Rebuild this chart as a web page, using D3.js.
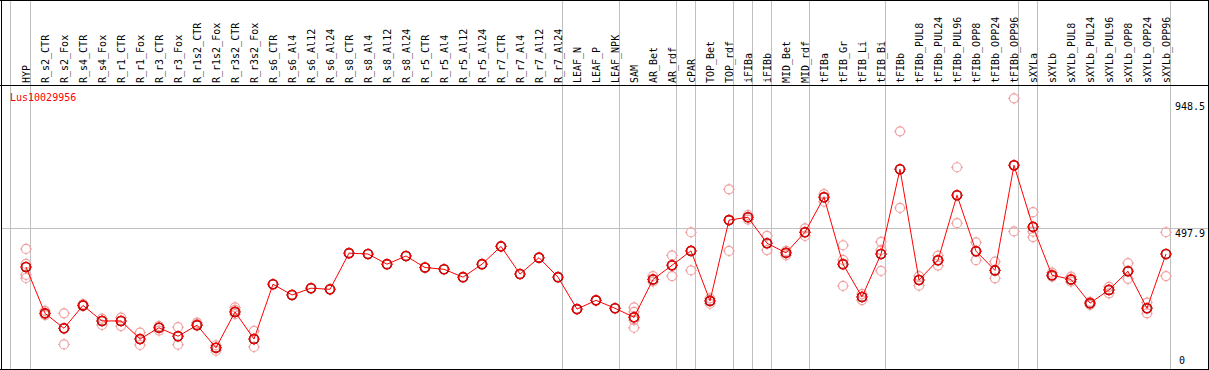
<!DOCTYPE html>
<html>
<head>
<meta charset="utf-8">
<script src="https://cdn.jsdelivr.net/npm/d3@7"></script>
<style>
  body { margin: 0; background: #fff; }
  svg { display: block; }
  text { font-family: "DejaVu Sans Mono", monospace; font-size: 10px; }
</style>
</head>
<body>
<div id="chart"></div>
<script>
var geneName = "Lus10029956";

var categories = ["HYP", "R_s2_CTR", "R_s2_Fox", "R_s4_CTR", "R_s4_Fox", "R_r1_CTR", "R_r1_Fox",
  "R_r3_CTR", "R_r3_Fox", "R_r1s2_CTR", "R_r1s2_Fox", "R_r3s2_CTR", "R_r3s2_Fox", "R_s6_CTR",
  "R_s6_Al4", "R_s6_Al12", "R_s6_Al24", "R_s8_CTR", "R_s8_Al4", "R_s8_Al12", "R_s8_Al24",
  "R_r5_CTR", "R_r5_Al4", "R_r5_Al12", "R_r5_Al24", "R_r7_CTR", "R_r7_Al4", "R_r7_Al12",
  "R_r7_Al24", "LEAF_N", "LEAF_P", "LEAF_NPK", "SAM", "AR_Bet", "AR_rdf", "cPAR", "TOP_Bet",
  "TOP_rdf", "iFIBa", "iFIBb", "MID_Bet", "MID_rdf", "tFIBa", "tFIB_Gr", "tFIB_Li", "tFIB_Bi",
  "tFIBb", "tFIBb_PUL8", "tFIBb_PUL24", "tFIBb_PUL96", "tFIBb_OPP8", "tFIBb_OPP24",
  "tFIBb_OPP96", "sXYLa", "sXYLb", "sXYLb_PUL8", "sXYLb_PUL24", "sXYLb_PUL96", "sXYLb_OPP8",
  "sXYLb_OPP24", "sXYLb_OPP96"];

// mean expression per sample
var means = [361, 197, 144, 225, 170, 170, 106, 146, 116, 155, 75, 202, 106, 300,
  262, 286, 282, 410, 407, 371, 400, 359, 353, 325, 371, 434, 336, 394,
  325, 212, 243, 215, 183, 317, 367, 418, 241,
  527, 537, 445, 411, 484, 608, 371, 255, 407,
  707, 315, 385, 615, 417, 349,
  721, 503, 332, 317, 233, 280, 346,
  215, 407];

// individual replicates
var replicates = [[425, 372, 333, 322], [206, 191], [197, 87], [230, 223], [178, 156], [182, 152], [129, 85],
  [152, 136], [148, 86], [164, 159], [84, 65], [218, 209, 194], [135, 78], [],
  [], [], [], [], [], [], [],
  [], [], [], [], [], [], [],
  [], [], [], [], [218, 202, 173, 146], [329, 309], [402, 329], [484, 349], [250, 231],
  [636, 418], [545, 529], [471, 421], [402, 418], [498, 471], [619, 592], [438, 386, 294], [244, 265], [450, 421, 347],
  [841, 570], [329, 295], [401, 366], [714, 516], [448, 385], [380, 321],
  [958, 487], [555, 486, 467], [341, 327], [327, 309], [238, 227], [291, 268], [375, 319],
  [235, 197], [484, 329]];

// samples that start a new block (vertical separators)
var groupStarts = ["HYP", "R_s2_CTR", "LEAF_N", "SAM", "cPAR", "TOP_Bet", "iFIBa", "iFIBb",
  "MID_Bet", "tFIBa", "tFIBb", "sXYLa", "sXYLb"];

var yTicks = [0, 497.9, 948.5];
var yGrid = [497.9];

var w = 1209, h = 370;
var headerBottom = 85.5;

var svg = d3.select("#chart").append("svg").attr("width", w).attr("height", h);

var x = d3.scaleBand().domain(categories).range([11.5, 11.5 + 19 * categories.length]).padding(0);
var y = d3.scaleLinear().domain([0, 948.5]).range([369, 101]);

function px(c) { return x(c) + 14.5; }
function crisp(v) { return Math.floor(v) + 0.5; }

// vertical separators
var sepXs = groupStarts.map(function (c) { return x(c); }).concat([x.range()[1]]);
svg.selectAll("line.sep")
  .data(sepXs)
  .enter()
  .append("line")
  .attr("class", "sep")
  .attr("x1", function (d, i) { return crisp(d) - (i === 0 ? 1 : 0); })
  .attr("x2", function (d, i) { return crisp(d) - (i === 0 ? 1 : 0); })
  .attr("y1", 0)
  .attr("y2", h)
  .attr("stroke", "#c0c0c0")
  .attr("stroke-width", 1);

// horizontal grid
svg.selectAll("line.hgrid")
  .data(yGrid)
  .enter()
  .append("line")
  .attr("class", "hgrid")
  .attr("x1", 1)
  .attr("x2", 1208)
  .attr("y1", function (d) { return crisp(y(d)); })
  .attr("y2", function (d) { return crisp(y(d)); })
  .attr("stroke", "#c0c0c0");

// frame
var frame = svg.append("g").attr("stroke", "#000").attr("stroke-width", 1);
frame.append("line").attr("x1", 0).attr("x2", w).attr("y1", 0.5).attr("y2", 0.5);
frame.append("line").attr("x1", 0).attr("x2", w).attr("y1", headerBottom).attr("y2", headerBottom);
frame.append("line").attr("x1", 0).attr("x2", w).attr("y1", 369.5).attr("y2", 369.5);
frame.append("line").attr("x1", 1.5).attr("x2", 1.5).attr("y1", 0).attr("y2", h);
frame.append("line").attr("x1", 1208.5).attr("x2", 1208.5).attr("y1", 0).attr("y2", h);

// header labels
svg.selectAll("text.cat")
  .data(categories)
  .enter()
  .append("text")
  .attr("class", "cat")
  .attr("transform", function (d) { return "translate(" + (px(d) + 3.5) + ",83) rotate(-90)"; })
  .attr("fill", "#000")
  .text(function (d) { return d; });

// y labels on the right
svg.selectAll("text.ytick")
  .data(yTicks)
  .enter()
  .append("text")
  .attr("class", "ytick")
  .attr("x", function (d) { return d === 0 ? 1179 : 1175; })
  .attr("y", function (d) { return d === 0 ? 364 : y(d) + 9; })
  .attr("fill", "#000")
  .text(function (d) { return d; });

svg.append("text")
  .attr("x", 10)
  .attr("y", 101)
  .attr("fill", "#ff0000")
  .text(geneName);

function marker(g, color, cx, cy) {
  var r = 4.5;
  g.append("circle").attr("cx", cx).attr("cy", cy).attr("r", r)
    .attr("fill", "none").attr("stroke", color).attr("stroke-width", 1.2);
  g.append("path")
    .attr("d", "M" + cx + "," + (cy - r - 1.5) + "V" + (cy - r + 0.5) +
      "M" + cx + "," + (cy + r - 0.5) + "V" + (cy + r + 1.5) +
      "M" + (cx - r - 1.5) + "," + cy + "H" + (cx - r + 0.5) +
      "M" + (cx + r - 0.5) + "," + cy + "H" + (cx + r + 1.5))
    .attr("stroke", color).attr("stroke-width", 1);
}

// replicates
var repG = svg.append("g");
categories.forEach(function (c, i) {
  replicates[i].forEach(function (v) {
    marker(repG, "#f0a0a0", px(c), y(v));
  });
});

// mean line
var line = d3.line()
  .x(function (d, i) { return px(categories[i]); })
  .y(function (d) { return y(d); });

svg.append("path")
  .datum(means)
  .attr("d", line)
  .attr("fill", "none")
  .attr("stroke", "#ff0000")
  .attr("stroke-width", 1);

// mean markers
var meanG = svg.append("g");
means.forEach(function (v, i) {
  var cx = px(categories[i]), cy = y(v);
  meanG.append("circle").attr("cx", cx).attr("cy", cy).attr("r", 4.5)
    .attr("fill", "none").attr("stroke", "#600000").attr("stroke-width", 1.6);
  marker(meanG, "#ff0000", cx, cy);
});
</script>
</body>
</html>
